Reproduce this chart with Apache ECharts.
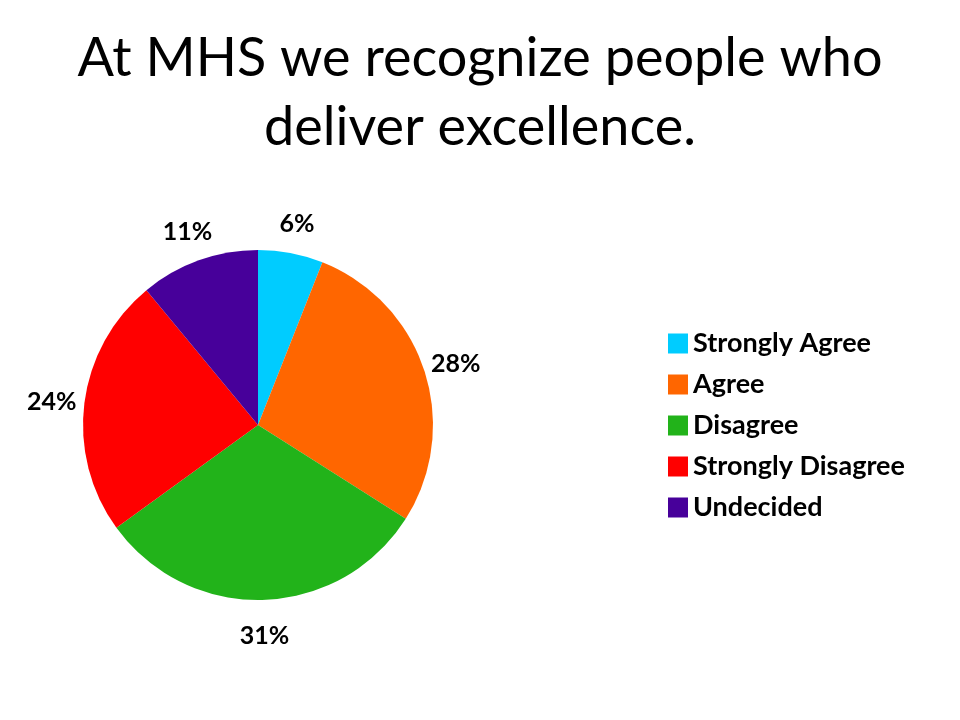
<!DOCTYPE html>
<html><head><meta charset="utf-8">
<script src="https://cdn.jsdelivr.net/npm/echarts@6/dist/echarts.min.js"></script>
<style>html,body{margin:0;padding:0;background:#fff}#c{width:960px;height:720px}</style>
</head><body><div id="c"></div>
<script>
const categories = ["Strongly Agree", "Agree", "Disagree", "Strongly Disagree", "Undecided"];
const values = [6, 28, 31, 24, 11];
const colors = ["#00CCFF", "#FF6600", "#22B31A", "#FF0000", "#47009A"];
const titleText = "At MHS we recognize people who\ndeliver excellence.";

const chart = echarts.init(document.getElementById('c'));
chart.setOption({
  backgroundColor: '#fff',
  animation: false,
  title: {
    text: titleText, left: 'center', top: 19,
    textStyle: { fontFamily: 'Lato', fontSize: 54, fontWeight: 'normal', color: '#000', lineHeight: 69 }
  },
  legend: {
    orient: 'vertical', left: 663, top: 325, itemWidth: 20, itemHeight: 20, itemGap: 14,
    icon: 'rect',
    textStyle: { fontFamily: 'Lato', fontSize: 27, fontWeight: 'bold', color: '#000', padding: [0,0,0,0] },
    data: categories
  },
  series: [{
    type: 'pie', center: [258, 425], radius: 175, startAngle: 90, clockwise: true,
    data: categories.map((c, i) => ({ name: c, value: values[i], itemStyle: { color: colors[i] } })),
    label: { show: false },
    labelLine: { show: false },
    emphasis: { disabled: true }
  }, {
    type: 'pie', center: [258, 425], radius: [190, 220], startAngle: 90, clockwise: true,
    silent: true, legendHoverLink: false,
    data: categories.map((c, i) => ({ name: c, value: values[i], itemStyle: { color: 'rgba(0,0,0,0)' } })),
    label: { position: 'inside', formatter: '{c}%', fontFamily: 'Lato', fontSize: 25, fontWeight: 'bold', color: '#000', offset: [0, 3] },
    labelLine: { show: false },
    emphasis: { disabled: true }
  }]
});
</script></body></html>
